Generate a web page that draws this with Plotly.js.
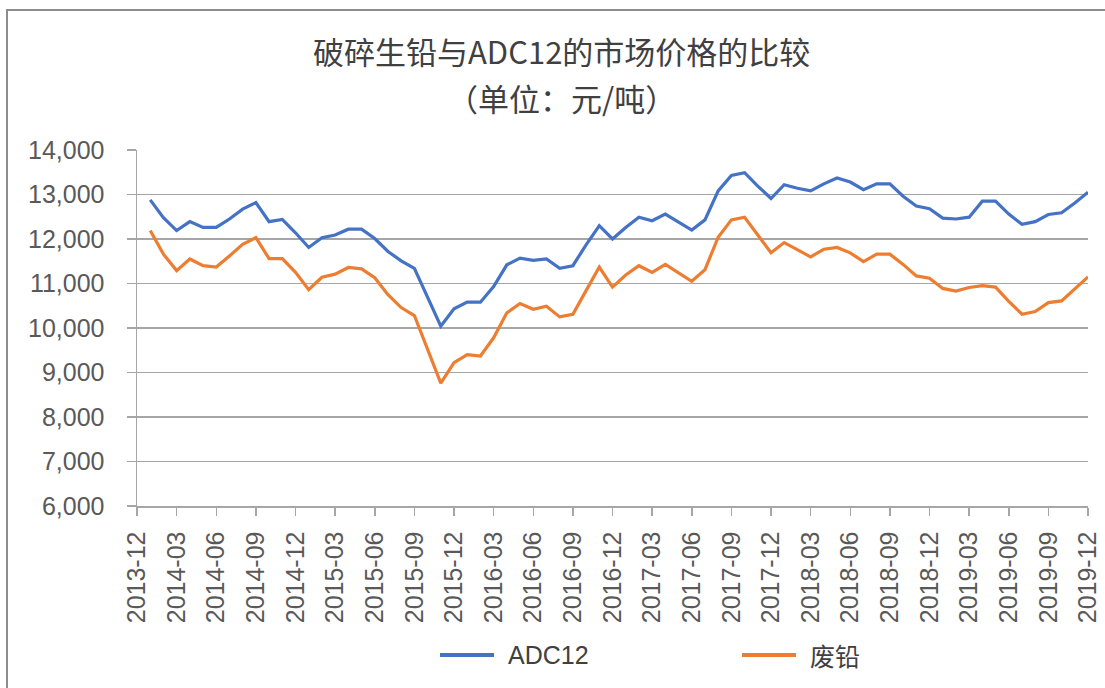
<!DOCTYPE html>
<html>
<head>
<meta charset="utf-8">
<script src="https://cdn.plot.ly/plotly-3.0.1.min.js"></script>
<style>html,body{margin:0;padding:0;background:#fff;}#chart{width:1105px;height:688px;}</style>
</head>
<body>
<div id="chart"></div>
<script>
// Category axis: 2013-12 is the first (empty) slot, data run 2014-01 .. 2019-12
var axisStart = '2013-12';
var months = [
 '2014-01','2014-02','2014-03','2014-04','2014-05','2014-06','2014-07','2014-08','2014-09','2014-10','2014-11','2014-12',
 '2015-01','2015-02','2015-03','2015-04','2015-05','2015-06','2015-07','2015-08','2015-09','2015-10','2015-11','2015-12',
 '2016-01','2016-02','2016-03','2016-04','2016-05','2016-06','2016-07','2016-08','2016-09','2016-10','2016-11','2016-12',
 '2017-01','2017-02','2017-03','2017-04','2017-05','2017-06','2017-07','2017-08','2017-09','2017-10','2017-11','2017-12',
 '2018-01','2018-02','2018-03','2018-04','2018-05','2018-06','2018-07','2018-08','2018-09','2018-10','2018-11','2018-12',
 '2019-01','2019-02','2019-03','2019-04','2019-05','2019-06','2019-07','2019-08','2019-09','2019-10','2019-11','2019-12'
];
var tickLabels = ['2013-12','2014-03','2014-06','2014-09','2014-12','2015-03','2015-06','2015-09','2015-12',
 '2016-03','2016-06','2016-09','2016-12','2017-03','2017-06','2017-09','2017-12','2018-03','2018-06','2018-09',
 '2018-12','2019-03','2019-06','2019-09','2019-12'];

var adc12 = [
 12880,12480,12190,12390,12260,12260,12450,12670,12820,12390,12440,12140,
 11810,12030,12090,12220,12220,12010,11720,11510,11340,10690,10040,10430,
 10580,10580,10930,11420,11570,11520,11550,11340,11400,11870,12300,12000,
 12260,12490,12410,12560,12380,12200,12430,13080,13430,13490,13190,12910,
 13220,13140,13080,13240,13370,13280,13110,13240,13240,12960,12740,12680,
 12470,12450,12490,12850,12850,12560,12330,12390,12550,12590,12810,13050
];
var scrapAl = [
 12190,11660,11290,11550,11400,11370,11620,11880,12030,11560,11560,11250,
 10860,11140,11210,11360,11330,11130,10750,10460,10280,9500,8760,9220,
 9400,9370,9780,10340,10550,10420,10490,10250,10310,10840,11370,10920,
 11190,11400,11250,11430,11230,11050,11310,12040,12430,12490,12090,11690,
 11920,11750,11600,11770,11810,11690,11490,11660,11660,11430,11170,11120,
 10890,10830,10910,10950,10920,10600,10310,10370,10570,10610,10870,11150
];
var seriesNames = ['ADC12','废铅'];
var seriesColors = ['#4472C4','#ED7D31'];
var titleLines = ['破碎生铅与ADC12的市场价格的比较','（单位：元/吨）'];

var W = 1105, H = 688;
var mL = 137, mR = 17, mT = 150, mB = 182;
var pw = W - mL - mR, ph = H - mT - mB;
function px(x){ return (x - mL) / pw; }
function py(y){ return (H - mB - y) / ph; }

var cjk = '"Noto Sans CJK SC", "Noto Sans", sans-serif';
var latin = '"Liberation Sans", Arial, sans-serif';

var traces = [adc12, scrapAl].map(function(vals, k){
  return {
    type: 'scatter', mode: 'lines', x: months, y: vals, name: seriesNames[k],
    line: {color: seriesColors[k], width: 3.2}, showlegend: false, hoverinfo: 'x+y'
  };
});

var legendItems = [
  {x0: 440, x1: 494, tx: 506, font: latin},
  {x0: 742, x1: 796, tx: 808, font: cjk}
];
var shapes = [
  {type: 'rect', xref: 'paper', yref: 'paper', x0: px(7), x1: px(1130), y0: py(10), y1: py(720),
   line: {color: '#8c8c8c', width: 2}, fillcolor: 'rgba(0,0,0,0)'}
];
var annotations = [
  {xref: 'paper', yref: 'paper', x: px(561), y: py(50), text: titleLines[0], showarrow: false,
   xanchor: 'center', yanchor: 'middle', font: {family: cjk, size: 31, color: '#404040'}},
  {xref: 'paper', yref: 'paper', x: px(561), y: py(97), text: titleLines[1], showarrow: false,
   xanchor: 'center', yanchor: 'middle', font: {family: cjk, size: 31, color: '#404040'}}
];
legendItems.forEach(function(it, k){
  shapes.push({type: 'line', xref: 'paper', yref: 'paper', x0: px(it.x0), x1: px(it.x1), y0: py(655), y1: py(655),
    line: {color: seriesColors[k], width: 4}});
  annotations.push({xref: 'paper', yref: 'paper', x: px(it.tx), y: py(655), text: seriesNames[k], showarrow: false,
    xanchor: 'left', yanchor: 'middle', font: {family: it.font, size: 25, color: '#404040'}});
});

var layout = {
  width: W, height: H,
  margin: {l: mL, r: mR, t: mT, b: mB, pad: 0},
  paper_bgcolor: '#ffffff', plot_bgcolor: '#ffffff',
  showlegend: false,
  xaxis: {
    type: 'category', categoryorder: 'array', categoryarray: [axisStart].concat(months),
    range: [0, months.length], tickmode: 'array', tickvals: tickLabels, ticktext: tickLabels,
    tickangle: -90, ticks: 'outside', ticklen: 8, tickcolor: '#a6a6a6', tickwidth: 1.5,
    showline: true, linecolor: '#a6a6a6', linewidth: 1.5, showgrid: false, zeroline: false,
    tickfont: {family: latin, size: 25, color: '#595959'}, ticklabelstandoff: 6
  },
  yaxis: {
    range: [6000, 14000], tickvals: [6000,7000,8000,9000,10000,11000,12000,13000,14000],
    tickformat: ',d', ticks: 'outside', ticklen: 9, tickcolor: '#a6a6a6', tickwidth: 1.5,
    showline: true, linecolor: '#a6a6a6', linewidth: 1.5,
    showgrid: true, gridcolor: '#a6a6a6', gridwidth: 1.5, zeroline: false,
    tickfont: {family: latin, size: 25, color: '#595959'}, ticklabelstandoff: 17
  },
  shapes: shapes,
  annotations: annotations
};

Plotly.newPlot('chart', traces, layout, {displayModeBar: false, staticPlot: true});
</script>
</body>
</html>
